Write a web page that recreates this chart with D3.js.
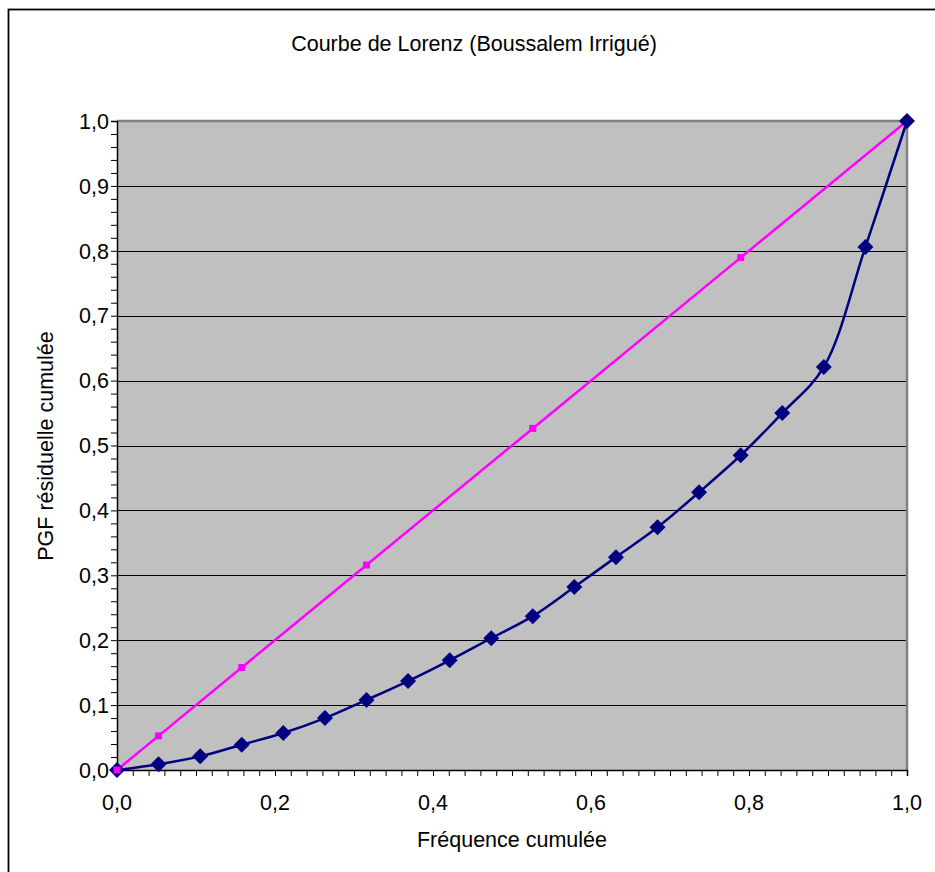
<!DOCTYPE html>
<html><head><meta charset="utf-8">
<script src="https://cdn.jsdelivr.net/npm/d3@7"></script>
<style>body{margin:0;background:#fff}svg{display:block;font-family:"Liberation Sans",Arial,sans-serif}</style>
</head><body><svg id="c" width="935" height="872"></svg>
<script>
const title = "Courbe de Lorenz (Boussalem Irrigué)";
const xTitle = "Fréquence cumulée";
const yTitle = "PGF résiduelle cumulée";
const lorenzX = [0,0.0526,0.1053,0.1579,0.2105,0.2632,0.3158,0.3684,0.4211,0.4737,0.5263,0.5789,0.6316,0.6842,0.7368,0.7895,0.8421,0.8947,0.9474,1.0];
const lorenzY = [0,0.009,0.021,0.039,0.057,0.080,0.108,0.137,0.169,0.203,0.237,0.282,0.328,0.374,0.428,0.485,0.550,0.621,0.806,1.0];
const equalX = [0,0.0526,0.1579,0.3158,0.5263,0.7895,1.0];
const equalY = [0,0.0526,0.1579,0.3158,0.5263,0.7895,1.0];
const yTickVals = [0,0.1,0.2,0.3,0.4,0.5,0.6,0.7,0.8,0.9,1.0];
const xTickVals = [0,0.2,0.4,0.6,0.8,1.0];
const fmt = d => d.toFixed(1).replace(".", ",");
const FS = 21.5;

const svg = d3.select("#c");
svg.append("rect").attr("x",8.5).attr("y",9.5).attr("width",940).attr("height",880)
  .attr("fill","#fff").attr("stroke","#000").attr("stroke-width",1.8);

const L=117,R=907,T=121,B=770;
const x = d3.scaleLinear().domain([0,1]).range([L,R]);
const y = d3.scaleLinear().domain([0,1]).range([B,T]);

svg.append("rect").attr("x",L).attr("y",T).attr("width",R-L).attr("height",B-T).attr("fill","#C0C0C0");
svg.append("g").selectAll("line").data(yTickVals.slice(1)).join("line")
  .attr("x1",L).attr("x2",R).attr("y1",d=>Math.round(y(d))+0.5).attr("y2",d=>Math.round(y(d))+0.5)
  .attr("stroke","#000").attr("stroke-width",1);
svg.append("path").attr("d",`M${L},${T} H${R} V${B}`).attr("fill","none").attr("stroke","#808080").attr("stroke-width",2.5);

const minor = d3.range(0,1.0001,0.02);
const gy = svg.append("g").attr("transform",`translate(${L},0)`)
  .call(d3.axisLeft(y).tickValues(minor).tickSize(6).tickFormat(""));
gy.selectAll("path,line").attr("stroke","#000");
gy.select(".domain").attr("stroke-width",1.5);
svg.append("g").selectAll("text").data(yTickVals).join("text")
  .attr("x",L-8).attr("y",d=>y(d)).attr("dy","0.36em").attr("text-anchor","end")
  .attr("font-size",FS).attr("fill","#000").text(fmt);
const gx = svg.append("g").attr("transform",`translate(0,${B})`)
  .call(d3.axisBottom(x).tickValues(minor).tickSize(6).tickFormat(""));
gx.selectAll("path,line").attr("stroke","#000");
gx.select(".domain").attr("stroke-width",1.5);
svg.append("g").selectAll("text").data(xTickVals).join("text")
  .attr("x",d=>x(d)).attr("y",B+40).attr("text-anchor","middle")
  .attr("font-size",FS).attr("fill","#000").text(fmt);

const eq = equalX.map((d,i)=>[d,equalY[i]]);
svg.append("path").datum(eq).attr("d",d3.line().x(d=>x(d[0])).y(d=>y(d[1])))
  .attr("fill","none").attr("stroke","#FF00FF").attr("stroke-width",2.5);
svg.append("g").selectAll("rect").data(eq).join("rect")
  .attr("x",d=>x(d[0])-3.5).attr("y",d=>y(d[1])-3.5).attr("width",7).attr("height",7).attr("fill","#FF00FF");

const lz = lorenzX.map((d,i)=>[d,lorenzY[i]]);
svg.append("path").datum(lz).attr("d",d3.line().curve(d3.curveCatmullRom.alpha(0.5)).x(d=>x(d[0])).y(d=>y(d[1])))
  .attr("fill","none").attr("stroke","#000080").attr("stroke-width",2.5);
svg.append("g").selectAll("path").data(lz).join("path")
  .attr("transform",d=>`translate(${x(d[0])},${y(d[1])})`)
  .attr("d","M0,-8L8,0L0,8L-8,0Z").attr("fill","#000080");
svg.append("rect").attr("x",x(equalX[0])-3.5).attr("y",y(equalY[0])-3.5).attr("width",7).attr("height",7).attr("fill","#FF00FF");

svg.append("text").attr("x",474).attr("y",51).attr("text-anchor","middle").attr("font-size",FS).text(title);
svg.append("text").attr("x",512).attr("y",847).attr("text-anchor","middle").attr("font-size",FS).text(xTitle);
svg.append("text").attr("transform","translate(53,446) rotate(-90)").attr("text-anchor","middle").attr("font-size",FS).text(yTitle);
</script></body></html>
